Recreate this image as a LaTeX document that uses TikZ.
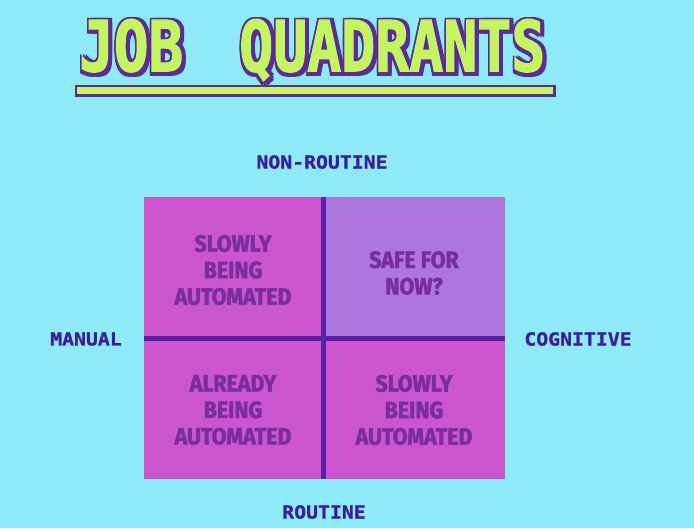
\documentclass[tikz,border=0pt]{standalone}
\usepackage{fontspec}
\usepackage{graphicx}
\newfontfamily\qfont{Fira Sans}[FakeStretch=0.91, UprightFont=* Bold, FakeBold=2]
\newfontfamily\pixfont{DejaVu Sans Mono}[FakeStretch=1.1, UprightFont=* Bold, FakeBold=1]
\newfontfamily\titlefont{DejaVu Sans Mono}[UprightFont=* Bold, FakeBold=2]
\definecolor{bgc}{HTML}{8DEAF6}
\definecolor{magc}{HTML}{CB55CF}
\definecolor{lavc}{HTML}{AD76DC}
\definecolor{linec}{HTML}{5A20A6}
\definecolor{qtextc}{HTML}{7A2E9C}
\definecolor{axisc}{HTML}{3C1E9C}
\definecolor{limec}{HTML}{C5F462}
\definecolor{shadc}{HTML}{5B2C94}
\newcommand\jobword{\resizebox{104pt}{52pt}{JOB}}
\newcommand\quadword{\resizebox{306pt}{52pt}{QUADRANTS}}
\tikzset{
  x=1pt, y=-1pt,
  quad/.style={draw=none, inner sep=0pt, outer sep=0pt},
  qtext/.style={text=qtextc, align=center, inner sep=0pt,
    font={\qfont\fontsize{23.5}{26.5}\selectfont}},
  axis/.style={text=axisc, inner sep=0pt,
    font={\pixfont\fontsize{18}{20}\selectfont}},
  divider/.style={draw=linec, line width=5pt},
  ttl/.style={inner sep=0pt, anchor=north west, font=\titlefont}
}
\begin{document}
\begin{tikzpicture}
\useasboundingbox (0,0) rectangle (694,528);
\fill[bgc] (0,0) rectangle (694,528);
% title outline and shadow
\foreach \dx/\dy in {-1.5/-1.5, 1.5/-1.5, -1.5/1.5, 1.5/4, 4/4, 4/1.5, 4/-1.5, -1.5/4, 1.5/1.5} {
  \node[ttl, text=shadc] at (79+\dx,19+\dy) {\jobword};
  \node[ttl, text=shadc] at (239+\dx,19+\dy) {\quadword};
}
\node[ttl, text=limec] (job) at (79,19) {\jobword};
\node[ttl, text=limec] (quad) at (239,19) {\quadword};
% underline
\fill[shadc] (75,85) rectangle (556,97);
\fill[limec] (76.5,86.5) rectangle (553,93.5);
% quadrants
\node[quad, fill=magc, minimum width=179pt, minimum height=141pt, anchor=north west] (tl) at (144,197) {};
\node[quad, fill=lavc, minimum width=182pt, minimum height=141pt, anchor=north west] (tr) at (323,197) {};
\node[quad, fill=magc, minimum width=179pt, minimum height=141pt, anchor=north west] (bl) at (144,338) {};
\node[quad, fill=magc, minimum width=182pt, minimum height=141pt, anchor=north west] (br) at (323,338) {};
\draw[divider] (tl.south west) -- (tr.south east);
\draw[divider] (tl.north east) -- (bl.south east);
% quadrant texts
\node[qtext] (ttl1) at (233,270) {SLOWLY\\BEING\\AUTOMATED};
\node[qtext] (ttr1) at (414,273) {SAFE FOR\\NOW?};
\node[qtext] (tbl1) at (233,410) {ALREADY\\BEING\\AUTOMATED};
\node[qtext] (tbr1) at (414,410) {SLOWLY\\BEING\\AUTOMATED};
% axis labels
\node[axis] (nr) at (322,162) {NON-ROUTINE};
\node[axis] (man) at (86,339) {MANUAL};
\node[axis] (cog) at (578,339) {COGNITIVE};
\node[axis] (rt) at (324,512) {ROUTINE};
\end{tikzpicture}
\end{document}
